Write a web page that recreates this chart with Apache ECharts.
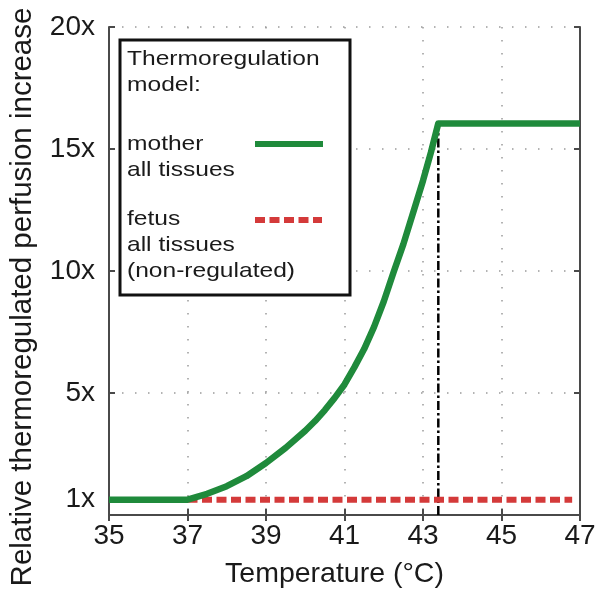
<!DOCTYPE html>
<html>
<head>
<meta charset="utf-8">
<script src="https://cdn.jsdelivr.net/npm/echarts@6/dist/echarts.min.js"></script>
<style>html,body{margin:0;padding:0;background:#fff}#c{width:600px;height:594px}</style>
</head>
<body>
<div id="c"></div>
<script>
// ---- data ----
const xTicks = [35, 37, 39, 41, 43, 45, 47];
const yTickLabels = ['1x', '5x', '10x', '15x', '20x'];
const baselineLevel = 0.63;              // plotted height of the "1x" baseline
const yLabelValues = [baselineLevel, 5, 10, 15, 20];

const motherTemp = [35, 37, 37.5, 38, 38.5, 39, 39.5, 40, 40.25, 40.5, 40.75, 41, 41.25, 41.5, 41.75,
                    42, 42.25, 42.5, 42.75, 43, 43.2, 43.39, 47];
const motherPerf = [0.63, 0.63, 0.87, 1.18, 1.59, 2.13, 2.75, 3.45, 3.85, 4.3, 4.8, 5.35, 6.05, 6.8, 7.7,
                    8.75, 9.95, 11.1, 12.4, 13.7, 14.85, 16.05, 16.05];

const fetusTemp = [37, 46.8];
const fetusPerf = [0.63, 0.63];

const thresholdTemp = [43.39, 43.39];
const thresholdPerf = [0, 16.0];

const legendTitle = ['Thermoregulation', 'model:'];
const motherLabel = ['mother', 'all tissues'];
const fetusLabel = ['fetus', 'all tissues', '(non-regulated)'];

const xLabel = 'Temperature (°C)';
const yLabel = 'Relative thermoregulated perfusion increase';

// ---- chart ----
const FONT = '"Liberation Sans", Arial, sans-serif';
const GREEN = '#1f8a3b';
const RED = '#d43a3a';
const AXIS = '#4a4a4a';
const TXT = '#1a1a1a';
const zip = (a, b) => a.map((v, i) => [v, b[i]]);

const chart = echarts.init(document.getElementById('c'), null, {renderer: 'canvas'});

const gridDots = {show: true, lineStyle: {color: '#9a9a9a', width: 1.5, type: [1.5, 11.5]}};

const legendX = 127, lh = 26;
function textLines(lines, top) {
  return lines.map((t, i) => ({
    type: 'text', x: legendX, y: top + i * lh, scaleX: 1.17, z: 101,
    style: {text: t, font: '21px ' + FONT, fill: TXT, textVerticalAlign: 'top', verticalAlign: 'top'}
  }));
}

chart.setOption({
  animation: false,
  backgroundColor: '#fff',
  grid: {left: 104, right: 20, top: 27, bottom: 78},
  xAxis: [{
    type: 'value', min: 35, max: 47, interval: 2, position: 'bottom',
    name: xLabel, nameLocation: 'middle', nameGap: 45,
    nameTextStyle: {fontFamily: FONT, fontSize: 28.5, color: TXT, padding: [0, 20, 0, 0]},
    axisLine: {show: true, lineStyle: {color: AXIS, width: 2}},
    axisTick: {show: true, inside: true, length: 6, lineStyle: {color: AXIS, width: 2}},
    axisLabel: {fontFamily: FONT, fontSize: 28, color: TXT, margin: 7,
      formatter: v => xTicks.includes(v) ? String(v) : ''},
    splitLine: gridDots
  }, {
    type: 'value', min: 35, max: 47, interval: 2, position: 'top',
    axisLine: {show: true, lineStyle: {color: AXIS, width: 2}},
    axisTick: {show: true, inside: true, length: 6, lineStyle: {color: AXIS, width: 2}},
    axisLabel: {show: false}, splitLine: {show: false}
  }],
  yAxis: [{
    type: 'value', min: 0, max: 20, interval: 5, position: 'left',
    name: yLabel, nameLocation: 'middle', nameGap: 71, nameRotate: 90,
    nameTextStyle: {fontFamily: FONT, fontSize: 29.5, color: TXT, padding: [0, 52, 0, 0]},
    axisLine: {show: true, lineStyle: {color: AXIS, width: 2}},
    axisTick: {show: true, inside: true, length: 6, lineStyle: {color: AXIS, width: 2}},
    axisLabel: {fontFamily: FONT, fontSize: 28, color: TXT, margin: 14,
      customValues: yLabelValues,
      formatter: v => {
        const i = yLabelValues.findIndex(u => Math.abs(u - v) < 1e-6);
        return i >= 0 ? yTickLabels[i] : '';
      }},
    splitLine: gridDots
  }, {
    type: 'value', min: 0, max: 20, interval: 5, position: 'right',
    axisLine: {show: true, lineStyle: {color: AXIS, width: 2}},
    axisTick: {show: true, inside: true, length: 6, lineStyle: {color: AXIS, width: 2}},
    axisLabel: {show: false}, splitLine: {show: false}
  }],
  series: [{
    name: 'threshold', type: 'line', data: zip(thresholdTemp, thresholdPerf),
    symbol: 'none', z: 3, silent: true,
    lineStyle: {color: '#000', width: 2.5, type: [9, 3, 2.5, 3]}
  }, {
    name: 'fetus all tissues (non-regulated)', type: 'line', data: zip(fetusTemp, fetusPerf),
    symbol: 'none', z: 4, silent: true,
    lineStyle: {color: RED, width: 6, type: [10, 4.5], cap: 'butt'}
  }, {
    name: 'mother all tissues', type: 'line', data: zip(motherTemp, motherPerf),
    symbol: 'none', z: 5, silent: true, smooth: false,
    lineStyle: {color: GREEN, width: 6.5, join: 'round'}
  }],
  graphic: [
    {type: 'rect', shape: {x: 120, y: 40, width: 230, height: 255}, z: 100,
      style: {fill: '#fff', stroke: '#111', lineWidth: 3}},
    ...textLines(legendTitle, 49),
    ...textLines(motherLabel, 134),
    ...textLines(fetusLabel, 209),
    {type: 'line', shape: {x1: 255, y1: 144, x2: 323, y2: 144}, z: 101,
      style: {stroke: GREEN, lineWidth: 6}},
    {type: 'line', shape: {x1: 255, y1: 220, x2: 322, y2: 220}, z: 101,
      style: {stroke: RED, lineWidth: 6, lineDash: [10, 4.5]}}
  ]
});
</script>
</body>
</html>
